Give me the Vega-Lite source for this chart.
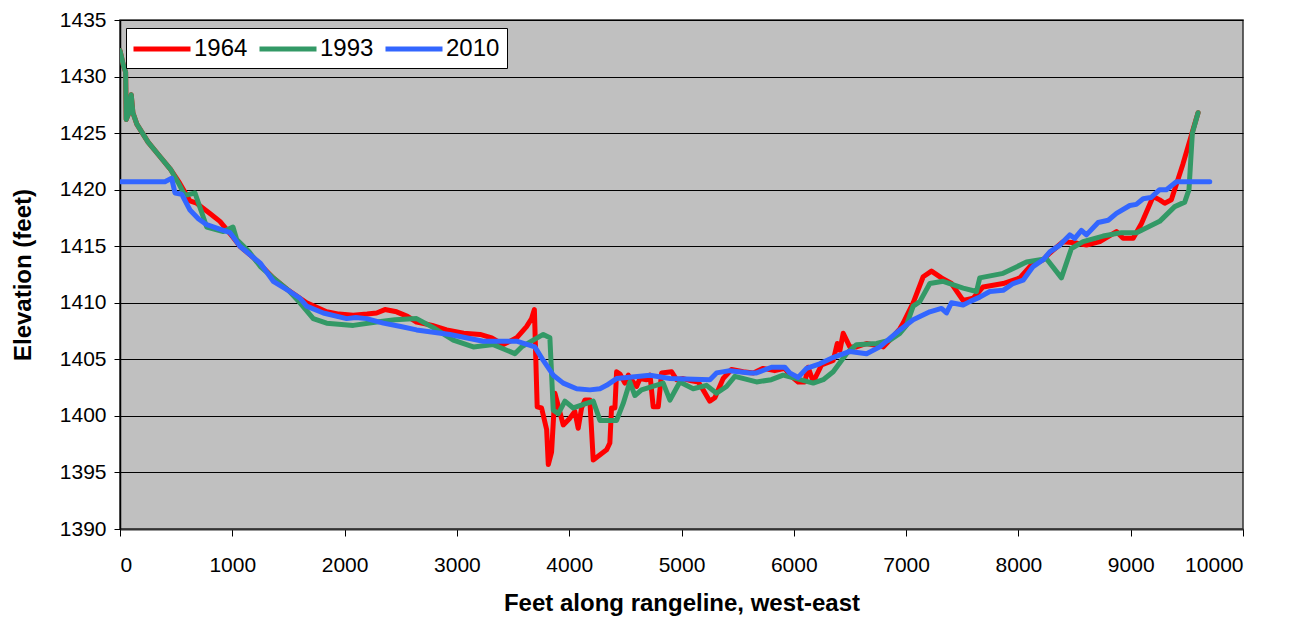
{
  "$schema": "https://vega.github.io/schema/vega-lite/v6.json",
  "width": 1123,
  "height": 509,
  "autosize": {"type": "none"},
  "padding": {"left": 120, "top": 20, "right": 54, "bottom": 93},
  "background": "white",
  "config": {
    "font": "Liberation Sans",
    "view": {"fill": "#C0C0C0", "stroke": "#333333", "strokeWidth": 1.5}
  },
  "data": {
    "values": [
      {"year": "1964", "ft": 0, "elev": 1432.3},
      {"year": "1964", "ft": 30, "elev": 1431.0},
      {"year": "1964", "ft": 50, "elev": 1430.4},
      {"year": "1964", "ft": 55, "elev": 1426.2},
      {"year": "1964", "ft": 80, "elev": 1426.8},
      {"year": "1964", "ft": 100, "elev": 1428.4},
      {"year": "1964", "ft": 115, "elev": 1426.8},
      {"year": "1964", "ft": 150, "elev": 1425.8},
      {"year": "1964", "ft": 250, "elev": 1424.2},
      {"year": "1964", "ft": 350, "elev": 1423.0},
      {"year": "1964", "ft": 450, "elev": 1421.8},
      {"year": "1964", "ft": 530, "elev": 1420.6},
      {"year": "1964", "ft": 600, "elev": 1419.4},
      {"year": "1964", "ft": 623, "elev": 1419.0},
      {"year": "1964", "ft": 682, "elev": 1418.8},
      {"year": "1964", "ft": 801, "elev": 1417.9},
      {"year": "1964", "ft": 890, "elev": 1417.2},
      {"year": "1964", "ft": 1006, "elev": 1415.8},
      {"year": "1964", "ft": 1068, "elev": 1415.0},
      {"year": "1964", "ft": 1187, "elev": 1414.0},
      {"year": "1964", "ft": 1365, "elev": 1412.2},
      {"year": "1964", "ft": 1500, "elev": 1411.1},
      {"year": "1964", "ft": 1662, "elev": 1410.0},
      {"year": "1964", "ft": 1840, "elev": 1409.2},
      {"year": "1964", "ft": 1950, "elev": 1409.0},
      {"year": "1964", "ft": 2077, "elev": 1408.9},
      {"year": "1964", "ft": 2200, "elev": 1409.0},
      {"year": "1964", "ft": 2285, "elev": 1409.1},
      {"year": "1964", "ft": 2359, "elev": 1409.4},
      {"year": "1964", "ft": 2463, "elev": 1409.2},
      {"year": "1964", "ft": 2560, "elev": 1408.8},
      {"year": "1964", "ft": 2641, "elev": 1408.3},
      {"year": "1964", "ft": 2780, "elev": 1408.0},
      {"year": "1964", "ft": 2909, "elev": 1407.6},
      {"year": "1964", "ft": 3060, "elev": 1407.3},
      {"year": "1964", "ft": 3206, "elev": 1407.2},
      {"year": "1964", "ft": 3310, "elev": 1406.9},
      {"year": "1964", "ft": 3413, "elev": 1406.3},
      {"year": "1964", "ft": 3532, "elev": 1406.9},
      {"year": "1964", "ft": 3620, "elev": 1407.9},
      {"year": "1964", "ft": 3665, "elev": 1408.6},
      {"year": "1964", "ft": 3690, "elev": 1409.4},
      {"year": "1964", "ft": 3715, "elev": 1400.8},
      {"year": "1964", "ft": 3754, "elev": 1400.7},
      {"year": "1964", "ft": 3799, "elev": 1398.8},
      {"year": "1964", "ft": 3814, "elev": 1395.7},
      {"year": "1964", "ft": 3843, "elev": 1396.8},
      {"year": "1964", "ft": 3873, "elev": 1402.0},
      {"year": "1964", "ft": 3947, "elev": 1399.2},
      {"year": "1964", "ft": 4006, "elev": 1399.8},
      {"year": "1964", "ft": 4050, "elev": 1400.4},
      {"year": "1964", "ft": 4080, "elev": 1398.9},
      {"year": "1964", "ft": 4110, "elev": 1400.7},
      {"year": "1964", "ft": 4140, "elev": 1401.4},
      {"year": "1964", "ft": 4184, "elev": 1401.4},
      {"year": "1964", "ft": 4214, "elev": 1396.1},
      {"year": "1964", "ft": 4333, "elev": 1397.0},
      {"year": "1964", "ft": 4362, "elev": 1397.6},
      {"year": "1964", "ft": 4377, "elev": 1400.7},
      {"year": "1964", "ft": 4407, "elev": 1400.7},
      {"year": "1964", "ft": 4422, "elev": 1403.9},
      {"year": "1964", "ft": 4452, "elev": 1403.7},
      {"year": "1964", "ft": 4496, "elev": 1402.9},
      {"year": "1964", "ft": 4526, "elev": 1403.6},
      {"year": "1964", "ft": 4555, "elev": 1403.2},
      {"year": "1964", "ft": 4600, "elev": 1402.6},
      {"year": "1964", "ft": 4630, "elev": 1403.3},
      {"year": "1964", "ft": 4689, "elev": 1403.2},
      {"year": "1964", "ft": 4720, "elev": 1403.6},
      {"year": "1964", "ft": 4748, "elev": 1400.8},
      {"year": "1964", "ft": 4793, "elev": 1400.8},
      {"year": "1964", "ft": 4823, "elev": 1403.8},
      {"year": "1964", "ft": 4912, "elev": 1403.9},
      {"year": "1964", "ft": 4956, "elev": 1403.2},
      {"year": "1964", "ft": 5015, "elev": 1403.3},
      {"year": "1964", "ft": 5090, "elev": 1403.1},
      {"year": "1964", "ft": 5149, "elev": 1403.0},
      {"year": "1964", "ft": 5193, "elev": 1402.3},
      {"year": "1964", "ft": 5252, "elev": 1401.3},
      {"year": "1964", "ft": 5297, "elev": 1401.6},
      {"year": "1964", "ft": 5371, "elev": 1403.3},
      {"year": "1964", "ft": 5445, "elev": 1404.1},
      {"year": "1964", "ft": 5549, "elev": 1403.9},
      {"year": "1964", "ft": 5640, "elev": 1403.8},
      {"year": "1964", "ft": 5727, "elev": 1404.2},
      {"year": "1964", "ft": 5830, "elev": 1404.0},
      {"year": "1964", "ft": 5920, "elev": 1404.2},
      {"year": "1964", "ft": 5964, "elev": 1403.6},
      {"year": "1964", "ft": 6039, "elev": 1403.0},
      {"year": "1964", "ft": 6098, "elev": 1403.0},
      {"year": "1964", "ft": 6128, "elev": 1404.3},
      {"year": "1964", "ft": 6173, "elev": 1403.0},
      {"year": "1964", "ft": 6247, "elev": 1404.5},
      {"year": "1964", "ft": 6351, "elev": 1404.9},
      {"year": "1964", "ft": 6387, "elev": 1406.4},
      {"year": "1964", "ft": 6411, "elev": 1405.8},
      {"year": "1964", "ft": 6440, "elev": 1407.3},
      {"year": "1964", "ft": 6499, "elev": 1406.1},
      {"year": "1964", "ft": 6558, "elev": 1406.1},
      {"year": "1964", "ft": 6648, "elev": 1406.4},
      {"year": "1964", "ft": 6796, "elev": 1406.1},
      {"year": "1964", "ft": 6855, "elev": 1406.7},
      {"year": "1964", "ft": 6944, "elev": 1407.7},
      {"year": "1964", "ft": 6974, "elev": 1408.2},
      {"year": "1964", "ft": 7063, "elev": 1410.0},
      {"year": "1964", "ft": 7152, "elev": 1412.3},
      {"year": "1964", "ft": 7226, "elev": 1412.8},
      {"year": "1964", "ft": 7315, "elev": 1412.2},
      {"year": "1964", "ft": 7404, "elev": 1411.7},
      {"year": "1964", "ft": 7508, "elev": 1410.2},
      {"year": "1964", "ft": 7597, "elev": 1410.4},
      {"year": "1964", "ft": 7686, "elev": 1411.4},
      {"year": "1964", "ft": 7864, "elev": 1411.7},
      {"year": "1964", "ft": 8013, "elev": 1412.2},
      {"year": "1964", "ft": 8102, "elev": 1413.2},
      {"year": "1964", "ft": 8220, "elev": 1413.8},
      {"year": "1964", "ft": 8280, "elev": 1414.4},
      {"year": "1964", "ft": 8398, "elev": 1415.4},
      {"year": "1964", "ft": 8500, "elev": 1415.3},
      {"year": "1964", "ft": 8606, "elev": 1415.1},
      {"year": "1964", "ft": 8725, "elev": 1415.4},
      {"year": "1964", "ft": 8873, "elev": 1416.3},
      {"year": "1964", "ft": 8932, "elev": 1415.7},
      {"year": "1964", "ft": 9022, "elev": 1415.7},
      {"year": "1964", "ft": 9096, "elev": 1417.0},
      {"year": "1964", "ft": 9200, "elev": 1419.4},
      {"year": "1964", "ft": 9258, "elev": 1419.1},
      {"year": "1964", "ft": 9303, "elev": 1418.8},
      {"year": "1964", "ft": 9362, "elev": 1419.1},
      {"year": "1964", "ft": 9466, "elev": 1422.3},
      {"year": "1964", "ft": 9555, "elev": 1425.3},
      {"year": "1964", "ft": 9600, "elev": 1426.8},

      {"year": "1993", "ft": 0, "elev": 1432.3},
      {"year": "1993", "ft": 30, "elev": 1431.0},
      {"year": "1993", "ft": 50, "elev": 1430.4},
      {"year": "1993", "ft": 55, "elev": 1426.2},
      {"year": "1993", "ft": 80, "elev": 1426.8},
      {"year": "1993", "ft": 100, "elev": 1428.4},
      {"year": "1993", "ft": 115, "elev": 1426.8},
      {"year": "1993", "ft": 150, "elev": 1425.8},
      {"year": "1993", "ft": 250, "elev": 1424.2},
      {"year": "1993", "ft": 350, "elev": 1423.0},
      {"year": "1993", "ft": 450, "elev": 1421.8},
      {"year": "1993", "ft": 520, "elev": 1420.6},
      {"year": "1993", "ft": 578, "elev": 1419.5},
      {"year": "1993", "ft": 668, "elev": 1419.7},
      {"year": "1993", "ft": 772, "elev": 1416.7},
      {"year": "1993", "ft": 920, "elev": 1416.3},
      {"year": "1993", "ft": 1006, "elev": 1416.7},
      {"year": "1993", "ft": 1039, "elev": 1415.6},
      {"year": "1993", "ft": 1150, "elev": 1414.5},
      {"year": "1993", "ft": 1250, "elev": 1413.2},
      {"year": "1993", "ft": 1365, "elev": 1412.2},
      {"year": "1993", "ft": 1500, "elev": 1411.1},
      {"year": "1993", "ft": 1603, "elev": 1410.0},
      {"year": "1993", "ft": 1721, "elev": 1408.6},
      {"year": "1993", "ft": 1840, "elev": 1408.2},
      {"year": "1993", "ft": 2077, "elev": 1408.0},
      {"year": "1993", "ft": 2285, "elev": 1408.3},
      {"year": "1993", "ft": 2450, "elev": 1408.5},
      {"year": "1993", "ft": 2641, "elev": 1408.6},
      {"year": "1993", "ft": 2790, "elev": 1407.8},
      {"year": "1993", "ft": 2968, "elev": 1406.7},
      {"year": "1993", "ft": 3146, "elev": 1406.1},
      {"year": "1993", "ft": 3324, "elev": 1406.3},
      {"year": "1993", "ft": 3516, "elev": 1405.5},
      {"year": "1993", "ft": 3576, "elev": 1406.1},
      {"year": "1993", "ft": 3769, "elev": 1407.2},
      {"year": "1993", "ft": 3828, "elev": 1406.9},
      {"year": "1993", "ft": 3858, "elev": 1400.5},
      {"year": "1993", "ft": 3903, "elev": 1400.2},
      {"year": "1993", "ft": 3962, "elev": 1401.3},
      {"year": "1993", "ft": 4036, "elev": 1400.7},
      {"year": "1993", "ft": 4214, "elev": 1401.3},
      {"year": "1993", "ft": 4274, "elev": 1399.6},
      {"year": "1993", "ft": 4422, "elev": 1399.6},
      {"year": "1993", "ft": 4481, "elev": 1401.1},
      {"year": "1993", "ft": 4540, "elev": 1403.0},
      {"year": "1993", "ft": 4585, "elev": 1401.8},
      {"year": "1993", "ft": 4644, "elev": 1402.3},
      {"year": "1993", "ft": 4837, "elev": 1402.9},
      {"year": "1993", "ft": 4897, "elev": 1401.4},
      {"year": "1993", "ft": 4985, "elev": 1403.0},
      {"year": "1993", "ft": 5104, "elev": 1402.4},
      {"year": "1993", "ft": 5223, "elev": 1402.7},
      {"year": "1993", "ft": 5312, "elev": 1402.0},
      {"year": "1993", "ft": 5401, "elev": 1402.6},
      {"year": "1993", "ft": 5475, "elev": 1403.5},
      {"year": "1993", "ft": 5668, "elev": 1403.0},
      {"year": "1993", "ft": 5800, "elev": 1403.2},
      {"year": "1993", "ft": 5905, "elev": 1403.6},
      {"year": "1993", "ft": 6024, "elev": 1403.3},
      {"year": "1993", "ft": 6173, "elev": 1402.9},
      {"year": "1993", "ft": 6262, "elev": 1403.2},
      {"year": "1993", "ft": 6351, "elev": 1403.9},
      {"year": "1993", "ft": 6469, "elev": 1405.5},
      {"year": "1993", "ft": 6558, "elev": 1406.3},
      {"year": "1993", "ft": 6737, "elev": 1406.4},
      {"year": "1993", "ft": 6855, "elev": 1406.7},
      {"year": "1993", "ft": 6944, "elev": 1407.3},
      {"year": "1993", "ft": 7003, "elev": 1408.0},
      {"year": "1993", "ft": 7063, "elev": 1409.7},
      {"year": "1993", "ft": 7122, "elev": 1410.1},
      {"year": "1993", "ft": 7211, "elev": 1411.7},
      {"year": "1993", "ft": 7330, "elev": 1411.9},
      {"year": "1993", "ft": 7508, "elev": 1411.3},
      {"year": "1993", "ft": 7627, "elev": 1411.0},
      {"year": "1993", "ft": 7656, "elev": 1412.2},
      {"year": "1993", "ft": 7864, "elev": 1412.6},
      {"year": "1993", "ft": 8072, "elev": 1413.6},
      {"year": "1993", "ft": 8250, "elev": 1413.9},
      {"year": "1993", "ft": 8383, "elev": 1412.2},
      {"year": "1993", "ft": 8472, "elev": 1414.8},
      {"year": "1993", "ft": 8576, "elev": 1415.4},
      {"year": "1993", "ft": 8754, "elev": 1415.9},
      {"year": "1993", "ft": 8918, "elev": 1416.2},
      {"year": "1993", "ft": 9052, "elev": 1416.2},
      {"year": "1993", "ft": 9258, "elev": 1417.2},
      {"year": "1993", "ft": 9392, "elev": 1418.5},
      {"year": "1993", "ft": 9481, "elev": 1418.9},
      {"year": "1993", "ft": 9519, "elev": 1420.0},
      {"year": "1993", "ft": 9549, "elev": 1425.0},
      {"year": "1993", "ft": 9600, "elev": 1426.8},

      {"year": "2010", "ft": 0, "elev": 1420.7},
      {"year": "2010", "ft": 400, "elev": 1420.7},
      {"year": "2010", "ft": 460, "elev": 1421.0},
      {"year": "2010", "ft": 490, "elev": 1419.7},
      {"year": "2010", "ft": 549, "elev": 1419.6},
      {"year": "2010", "ft": 623, "elev": 1418.2},
      {"year": "2010", "ft": 700, "elev": 1417.4},
      {"year": "2010", "ft": 772, "elev": 1416.9},
      {"year": "2010", "ft": 920, "elev": 1416.4},
      {"year": "2010", "ft": 980, "elev": 1416.2},
      {"year": "2010", "ft": 1068, "elev": 1415.0},
      {"year": "2010", "ft": 1187, "elev": 1414.0},
      {"year": "2010", "ft": 1250, "elev": 1413.5},
      {"year": "2010", "ft": 1365, "elev": 1411.9},
      {"year": "2010", "ft": 1497, "elev": 1411.1},
      {"year": "2010", "ft": 1603, "elev": 1410.4},
      {"year": "2010", "ft": 1662, "elev": 1409.7},
      {"year": "2010", "ft": 1810, "elev": 1409.1},
      {"year": "2010", "ft": 2018, "elev": 1408.6},
      {"year": "2010", "ft": 2100, "elev": 1408.7},
      {"year": "2010", "ft": 2196, "elev": 1408.6},
      {"year": "2010", "ft": 2345, "elev": 1408.2},
      {"year": "2010", "ft": 2500, "elev": 1407.9},
      {"year": "2010", "ft": 2641, "elev": 1407.6},
      {"year": "2010", "ft": 2938, "elev": 1407.2},
      {"year": "2010", "ft": 3235, "elev": 1406.6},
      {"year": "2010", "ft": 3532, "elev": 1406.6},
      {"year": "2010", "ft": 3694, "elev": 1406.1},
      {"year": "2010", "ft": 3769, "elev": 1404.9},
      {"year": "2010", "ft": 3858, "elev": 1403.6},
      {"year": "2010", "ft": 3947, "elev": 1402.9},
      {"year": "2010", "ft": 4066, "elev": 1402.4},
      {"year": "2010", "ft": 4184, "elev": 1402.3},
      {"year": "2010", "ft": 4274, "elev": 1402.4},
      {"year": "2010", "ft": 4333, "elev": 1402.7},
      {"year": "2010", "ft": 4422, "elev": 1403.3},
      {"year": "2010", "ft": 4630, "elev": 1403.5},
      {"year": "2010", "ft": 4719, "elev": 1403.6},
      {"year": "2010", "ft": 4897, "elev": 1403.3},
      {"year": "2010", "ft": 5253, "elev": 1403.2},
      {"year": "2010", "ft": 5312, "elev": 1403.8},
      {"year": "2010", "ft": 5430, "elev": 1404.0},
      {"year": "2010", "ft": 5609, "elev": 1403.8},
      {"year": "2010", "ft": 5668, "elev": 1403.8},
      {"year": "2010", "ft": 5801, "elev": 1404.3},
      {"year": "2010", "ft": 5920, "elev": 1404.3},
      {"year": "2010", "ft": 5964, "elev": 1403.8},
      {"year": "2010", "ft": 6039, "elev": 1403.4},
      {"year": "2010", "ft": 6113, "elev": 1404.2},
      {"year": "2010", "ft": 6231, "elev": 1404.6},
      {"year": "2010", "ft": 6336, "elev": 1405.1},
      {"year": "2010", "ft": 6499, "elev": 1405.7},
      {"year": "2010", "ft": 6648, "elev": 1405.5},
      {"year": "2010", "ft": 6766, "elev": 1406.1},
      {"year": "2010", "ft": 6944, "elev": 1407.6},
      {"year": "2010", "ft": 7063, "elev": 1408.5},
      {"year": "2010", "ft": 7211, "elev": 1409.2},
      {"year": "2010", "ft": 7315, "elev": 1409.5},
      {"year": "2010", "ft": 7360, "elev": 1409.1},
      {"year": "2010", "ft": 7404, "elev": 1410.0},
      {"year": "2010", "ft": 7508, "elev": 1409.8},
      {"year": "2010", "ft": 7567, "elev": 1410.1},
      {"year": "2010", "ft": 7656, "elev": 1410.5},
      {"year": "2010", "ft": 7745, "elev": 1411.0},
      {"year": "2010", "ft": 7864, "elev": 1411.1},
      {"year": "2010", "ft": 7953, "elev": 1411.7},
      {"year": "2010", "ft": 8042, "elev": 1412.0},
      {"year": "2010", "ft": 8131, "elev": 1413.2},
      {"year": "2010", "ft": 8220, "elev": 1413.8},
      {"year": "2010", "ft": 8280, "elev": 1414.5},
      {"year": "2010", "ft": 8369, "elev": 1415.1},
      {"year": "2010", "ft": 8457, "elev": 1416.0},
      {"year": "2010", "ft": 8502, "elev": 1415.7},
      {"year": "2010", "ft": 8561, "elev": 1416.4},
      {"year": "2010", "ft": 8606, "elev": 1416.0},
      {"year": "2010", "ft": 8710, "elev": 1417.1},
      {"year": "2010", "ft": 8800, "elev": 1417.3},
      {"year": "2010", "ft": 8873, "elev": 1417.9},
      {"year": "2010", "ft": 8992, "elev": 1418.6},
      {"year": "2010", "ft": 9050, "elev": 1418.7},
      {"year": "2010", "ft": 9111, "elev": 1419.2},
      {"year": "2010", "ft": 9180, "elev": 1419.3},
      {"year": "2010", "ft": 9258, "elev": 1420.0},
      {"year": "2010", "ft": 9318, "elev": 1420.0},
      {"year": "2010", "ft": 9407, "elev": 1420.7},
      {"year": "2010", "ft": 9704, "elev": 1420.7}
    ]
  },
  "mark": {"type": "line", "strokeWidth": 5, "strokeJoin": "round", "strokeCap": "round", "clip": true},
  "encoding": {
    "x": {
      "field": "ft",
      "type": "quantitative",
      "scale": {"domain": [0, 10000], "nice": false, "zero": false},
      "axis": {
        "title": "Feet along rangeline, west-east",
        "values": [0, 1000, 2000, 3000, 4000, 5000, 6000, 7000, 8000, 9000, 10000],
        "format": "d",
        "grid": false,
        "domainColor": "#333333",
        "domainWidth": 2,
        "tickColor": "#000000",
        "tickSize": 7,
        "labelFont": "Liberation Sans",
        "labelFontSize": 21,
        "labelColor": "#000000",
        "labelPadding": 18,
        "titleFont": "Liberation Sans",
        "titleFontSize": 24,
        "titleFontWeight": "bold",
        "titleColor": "#000000",
        "titlePadding": 16
      }
    },
    "y": {
      "field": "elev",
      "type": "quantitative",
      "scale": {"domain": [1390, 1435], "nice": false, "zero": false},
      "axis": {
        "title": "Elevation (feet)",
        "values": [1390, 1395, 1400, 1405, 1410, 1415, 1420, 1425, 1430, 1435],
        "format": "d",
        "grid": true,
        "gridColor": "#000000",
        "gridWidth": 1,
        "gridOpacity": 1,
        "domainColor": "#000000",
        "domainWidth": 1.5,
        "tickColor": "#000000",
        "tickSize": 6,
        "labelFont": "Liberation Sans",
        "labelFontSize": 21,
        "labelColor": "#000000",
        "labelPadding": 8,
        "titleFont": "Liberation Sans",
        "titleFontSize": 24,
        "titleFontWeight": "bold",
        "titleColor": "#000000",
        "titlePadding": 24
      }
    },
    "color": {
      "field": "year",
      "type": "nominal",
      "scale": {"domain": ["1964", "1993", "2010"], "range": ["#FF0000", "#339966", "#3366FF"]},
      "legend": {
        "title": null,
        "orient": "none",
        "legendX": 6,
        "legendY": 8,
        "direction": "horizontal",
        "fillColor": "#FFFFFF",
        "strokeColor": "#000000",
        "padding": 7,
        "symbolType": "M-2.5,0H2.5",
        "symbolStrokeWidth": 5,
        "symbolSize": 520,
        "symbolOffset": 15,
        "labelFont": "Liberation Sans",
        "labelFontSize": 24,
        "labelColor": "#000000",
        "labelOffset": 18,
        "columnPadding": 1
      }
    }
  }
}
